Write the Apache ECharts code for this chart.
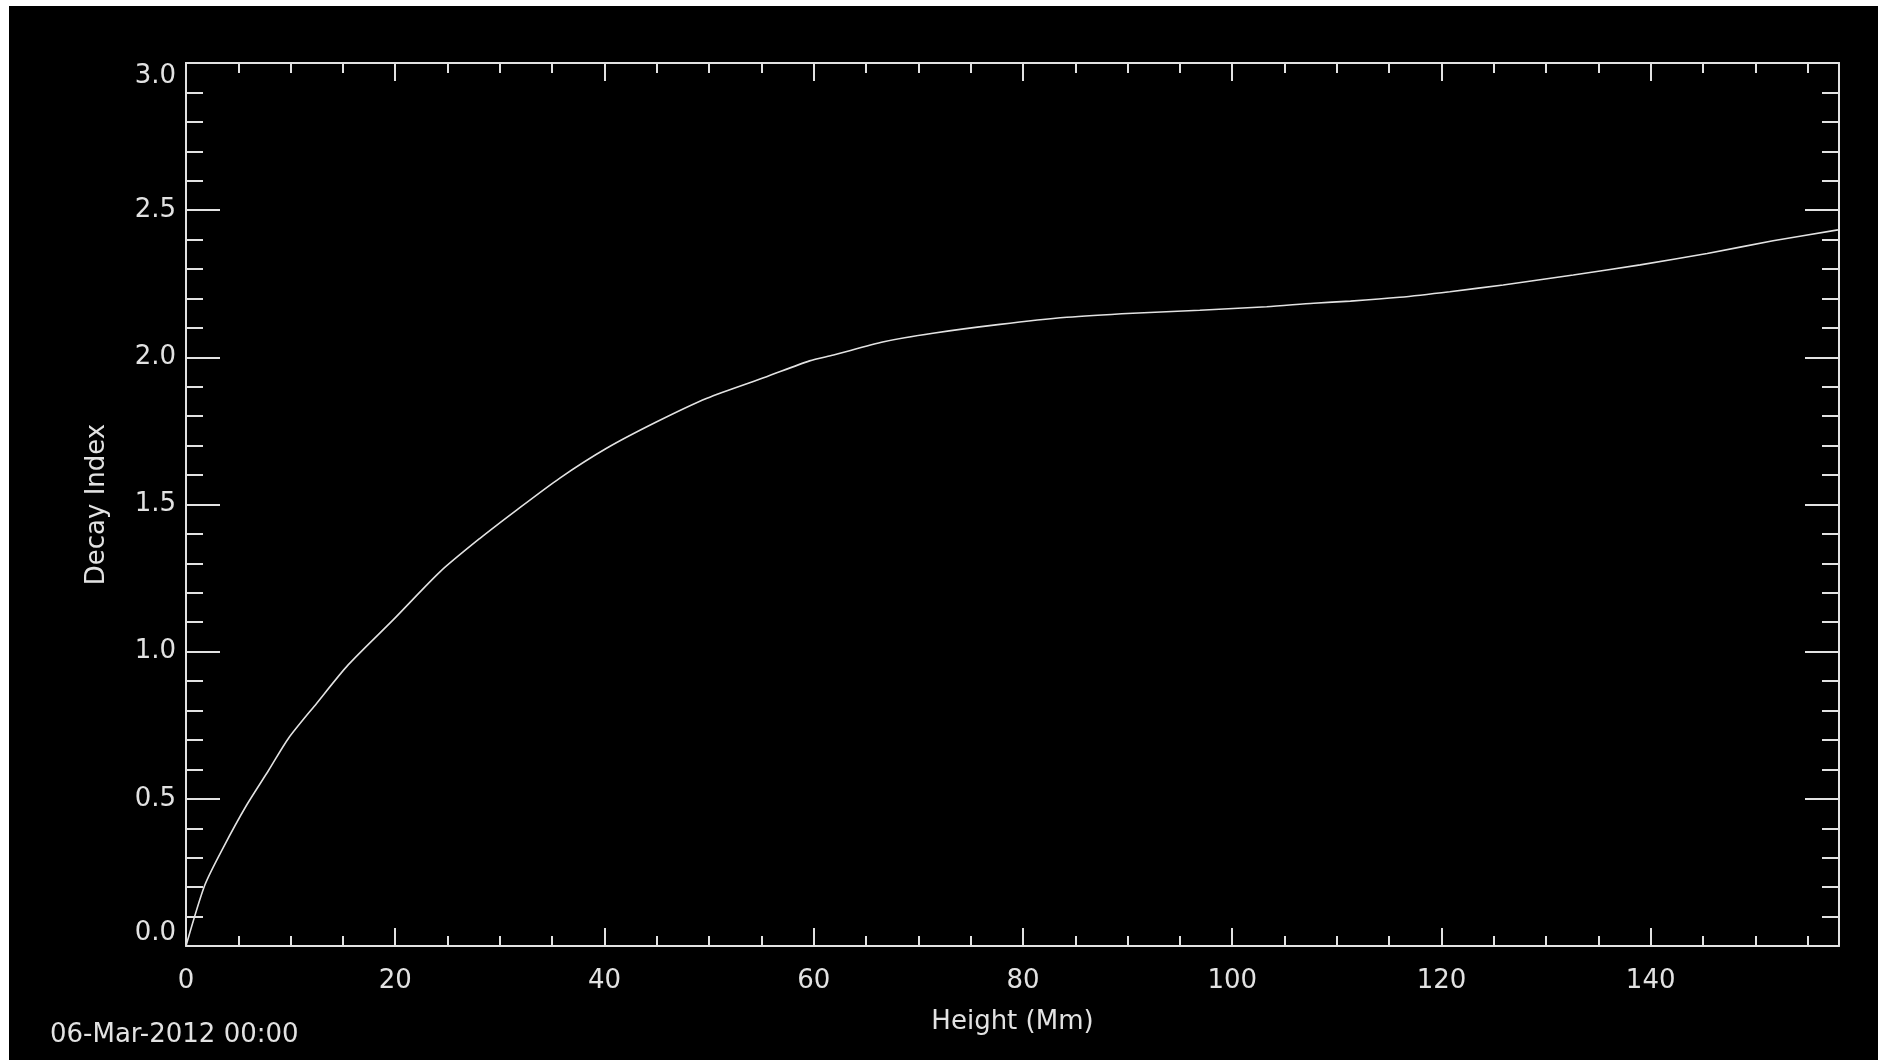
<!DOCTYPE html>
<html>
<head>
<meta charset="utf-8">
<title>Decay Index</title>
<script src="https://cdn.jsdelivr.net/npm/echarts@6/dist/echarts.min.js"></script>
<style>
    html, body { margin: 0; padding: 0; background: #fff; width: 1878px; height: 1060px; overflow: hidden; }
    #main { position: absolute; left: 9px; top: 6px; width: 1869px; height: 1054px; background: #000; }
</style>
</head>
<body>
<div id="main"></div>
<script>
// height above photosphere (Mm)
var heights = [0, 1.8, 3.6, 5.8, 7.9, 9.8, 12.5, 15.5, 19.8, 24.3, 28.1, 31.6, 35.7, 40.2, 45.0, 49.8,
    55.5, 59.6, 61.9, 66.7, 71.4, 77.8, 84.2, 90.5, 96.9, 103.3, 107.8, 111.3, 116.0, 120.8, 125.9,
    132.6, 139.0, 145.4, 151.7, 157.9];
// decay index at each height
var decayIndex = [0, 0.207, 0.337, 0.479, 0.597, 0.706, 0.825, 0.955, 1.108, 1.272, 1.385, 1.481, 1.589,
    1.691, 1.781, 1.861, 1.934, 1.988, 2.008, 2.053, 2.082, 2.112, 2.136, 2.150, 2.160, 2.172, 2.184,
    2.191, 2.204, 2.223, 2.246, 2.280, 2.314, 2.353, 2.396, 2.433];
var xTicks = { min: 0, max: 158, major: 20, minor: 5 };
var yTicks = { min: 0, max: 3, major: 0.5 };
var dateLabel = '06-Mar-2012 00:00';

(function () {
    var fg = '#e2e2e2';
    var font = 'DejaVu Sans';

    function xAxisDef(pos, interval, tickLen, withLabels) {
        return {
            type: 'value',
            position: pos,
            min: xTicks.min,
            max: xTicks.max,
            interval: interval,
            axisLine: { show: withLabels || pos === 'top', onZero: false, lineStyle: { color: fg, width: 2 } },
            axisTick: { show: true, inside: true, length: tickLen, lineStyle: { color: fg, width: 2 } },
            axisLabel: {
                show: withLabels,
                showMaxLabel: false,
                margin: 22,
                color: fg,
                fontFamily: font,
                fontSize: 26
            },
            splitLine: { show: false },
            name: withLabels ? 'Height (Mm)' : '',
            nameLocation: 'middle',
            nameGap: 63,
            nameTextStyle: { color: fg, fontFamily: font, fontSize: 26 }
        };
    }

    function yAxisDef(pos, withLabels) {
        return {
            type: 'value',
            position: pos,
            min: yTicks.min,
            max: yTicks.max,
            interval: yTicks.major,
            axisLine: { show: true, onZero: false, lineStyle: { color: fg, width: 2 } },
            axisTick: { show: true, inside: true, length: 34, lineStyle: { color: fg, width: 2 } },
            minorTick: { show: true, splitNumber: 5, length: 17, lineStyle: { color: fg, width: 2 } },
            axisLabel: {
                show: withLabels,
                margin: 10,
                color: fg,
                fontFamily: font,
                fontSize: 26,
                verticalAlignMinLabel: 'bottom',
                verticalAlignMaxLabel: 'top',
                formatter: function (v) { return v.toFixed(1); }
            },
            splitLine: { show: false },
            minorSplitLine: { show: false },
            name: withLabels ? 'Decay Index' : '',
            nameLocation: 'middle',
            nameGap: 76,
            nameTextStyle: { color: fg, fontFamily: font, fontSize: 26 }
        };
    }

    var points = heights.map(function (h, i) { return [h, decayIndex[i]]; });

    var option = {
        backgroundColor: '#000',
        animation: false,
        grid: { left: 177, top: 57, right: 39, bottom: 114 },
        xAxis: [
            xAxisDef('bottom', xTicks.major, 18, true),
            xAxisDef('bottom', xTicks.minor, 10, false),
            xAxisDef('top', xTicks.major, 18, false),
            xAxisDef('top', xTicks.minor, 10, false)
        ],
        yAxis: [
            yAxisDef('left', true),
            yAxisDef('right', false)
        ],
        graphic: [{
            type: 'text',
            left: 41,
            top: 1016,
            style: { text: dateLabel, fill: fg, font: '26px "DejaVu Sans"' }
        }],
        series: [{
            type: 'line',
            xAxisIndex: 0,
            yAxisIndex: 0,
            data: points,
            showSymbol: false,
            smooth: 0.25,
            lineStyle: { color: fg, width: 1.6 }
        }]
    };

    var myChart = echarts.init(document.getElementById('main'));
    myChart.setOption(option);
}());
</script>
</body>
</html>
